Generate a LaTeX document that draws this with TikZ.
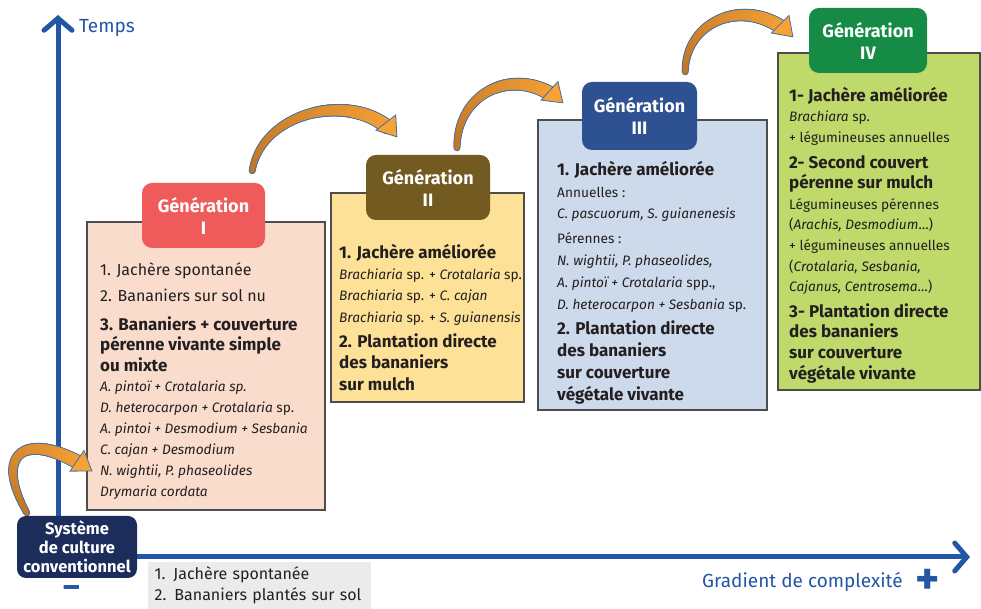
\documentclass[tikz,border=0pt]{standalone}
\usepackage{fontspec}
\setmainfont{Fira Sans}
\usetikzlibrary{arrows.meta,decorations.markings}

\definecolor{axisblue}{HTML}{2356A5}
\definecolor{boxline}{HTML}{4D4D4D}
\definecolor{ink}{HTML}{231F20}
\definecolor{peach}{HTML}{F9DCCB}
\definecolor{coral}{HTML}{EF5B5B}
\definecolor{straw}{HTML}{FCE196}
\definecolor{umber}{HTML}{735A20}
\definecolor{skyblue}{HTML}{CDDAEB}
\definecolor{steel}{HTML}{2E5291}
\definecolor{lime}{HTML}{C0D96B}
\definecolor{forest}{HTML}{168B45}
\definecolor{navy}{HTML}{1C2C5B}
\definecolor{greybox}{HTML}{EBEBEB}
\definecolor{arrowdark}{HTML}{BF7628}
\definecolor{arrowlight}{HTML}{F8A236}
\definecolor{arrowline}{HTML}{3E6FA8}

\newcommand\hdfont{\fontsize{17}{20}\selectfont\bfseries}
\newcommand\spfont{\fontsize{13.7}{20}\selectfont}

% one dot of the tapered shaft, #1=1 outline pass, #1=0 fill pass
\newcommand\taperdot[1]{%
  \pgfmathsetmacro\tdist{\pgfkeysvalueof{/pgf/decoration/mark info/distance from start}}%
  \pgfmathsetmacro\tlen{\pgfdecoratedpathlength}%
  \pgfmathsetmacro\tpos{\tdist/\tlen}%
  \pgfmathtruncatemacro\tshow{\tdist<\tlen-15 ? 1 : 0}%
  \pgfmathsetmacro\trad{2.6+4.4*\tpos+0.9*#1}%
  \pgfmathtruncatemacro\tmix{100*\tpos}%
  \ifnum\tshow=1
    \ifnum#1=1 \fill[arrowline] (0pt,0pt) circle (\trad pt);
    \else \fill[arrowlight!\tmix!arrowdark] (0pt,0pt) circle (\trad pt); \fi
  \fi}

\tikzset{
  bend line/.style={decorate, decoration={markings,
      mark=between positions 0 and 1 step 1pt with {\taperdot{1}}}},
  bend fill/.style={decorate, decoration={markings,
      mark=between positions 0 and 1 step 1pt with {\taperdot{0}}}},
  bend head/.style={decorate, decoration={markings,
      mark=at position 0.999 with {\filldraw[draw=arrowline, fill=arrowlight, line width=0.8pt]
        (0pt,0pt) -- (-18pt,12.5pt) -- (-18pt,-12.5pt) -- cycle;}}},
}
\newcommand\bendarrow[1]{\path[bend line] #1; \path[bend fill] #1; \path[bend head] #1;}

\begin{document}
\begin{tikzpicture}[x=1pt,y=1pt,
  genbox/.style={draw=boxline, line width=1.1pt, inner sep=0pt},
  genhead/.style={rounded corners=10pt, inner sep=0pt, text=white, align=center,
    font=\fontsize{18}{22}\selectfont\bfseries},
  boxtext/.style={anchor=north west, inner sep=0pt, align=left, text=ink},
  axis/.style={line width=5pt, draw=axisblue, line cap=round,
    -{Straight Barb[length=12pt,width=28pt,line cap=round]}},
  axislabel/.style={text=axisblue, inner sep=0pt},
]
\useasboundingbox (0,0) rectangle (981,609);

% axes
\coordinate (origin) at (58,52);
\coordinate (ytop) at (58,594);
\coordinate (xend) at (970,52);
\draw[axis] (origin) -- (ytop);
\draw[axis] (origin) -- (xend);

% generation boxes
\node[genbox, fill=peach, minimum width=238, minimum height=288] (box1) at (206,243) {};
\node[genbox, fill=straw, minimum width=193, minimum height=209] (box2) at (427.5,311.5) {};
\node[genbox, fill=skyblue, minimum width=229, minimum height=290] (box3) at (652.5,344) {};
\node[genbox, fill=lime, minimum width=202, minimum height=337] (box4) at (879,387.5) {};

% headers
\node[genhead, fill=coral, minimum width=123, minimum height=65] (head1) at (203.5,393.5) {Génération\\I};
\node[genhead, fill=umber, minimum width=124, minimum height=65] (head2) at (428,421.5) {Génération\\II};
\node[genhead, fill=steel, minimum width=115, minimum height=68] (head3) at (639.5,493) {Génération\\III};
\node[genhead, fill=forest, minimum width=118, minimum height=65] (head4) at (868,568.5) {Génération\\IV};

% box texts
\node[boxtext, font=\fontsize{16}{21}\selectfont] (txt1) at (100,347) {1. Jachère spontanée\\[5pt]
  2. Bananiers sur sol nu\\[8pt]
  \hdfont 3. Bananiers + couverture\\[-1pt]
  \hdfont pérenne vivante simple\\
  \hdfont ou mixte\\[-1pt]
  \spfont\itshape A. pintoï + Crotalaria sp.\\
  \spfont\textit{D. heterocarpon + Crotalaria} sp.\\
  \spfont\itshape A. pintoi + Desmodium + Sesbania\\
  \spfont\itshape C. cajan + Desmodium\\
  \spfont\itshape N. wightii, P. phaseolides\\
  \spfont\itshape Drymaria cordata};
\node[boxtext, font=\fontsize{14}{21.3}\selectfont] (txt2) at (339,365) {\hdfont 1. Jachère améliorée\\
  \spfont\textit{Brachiaria} sp. + \textit{Crotalaria} sp.\\
  \spfont\textit{Brachiaria} sp. + \textit{C. cajan}\\
  \spfont\textit{Brachiaria} sp. + \textit{S. guianensis}\\[4pt]
  \hdfont 2. Plantation directe\\
  \hdfont des bananiers\\
  \hdfont sur mulch};
\node[boxtext, font=\fontsize{14}{21.8}\selectfont] (txt3) at (557,448) {\hdfont 1. Jachère améliorée\\
  \spfont Annuelles~:\\
  \spfont\itshape C. pascuorum, S. guianenesis\\[3pt]
  \spfont Pérennes~:\\
  \spfont\itshape N. wightii, P. phaseolides,\\
  \spfont\textit{A. pintoï + Crotalaria} spp.,\\
  \spfont\textit{D. heterocarpon + Sesbania} sp.\\[4pt]
  \hdfont 2. Plantation directe\\
  \hdfont des bananiers\\
  \hdfont sur couverture\\
  \hdfont végétale vivante};
\node[boxtext, font=\fontsize{14}{20.6}\selectfont] (txt4) at (789,522) {\hdfont 1- Jachère améliorée\\
  \spfont\textit{Brachiara} sp.\\
  \spfont + légumineuses annuelles\\[5pt]
  \hdfont 2- Second couvert\\
  \hdfont pérenne sur mulch\\
  \spfont Légumineuses pérennes\\
  \spfont (\textit{Arachis, Desmodium}…)\\
  \spfont + légumineuses annuelles\\
  \spfont (\textit{Crotalaria, Sesbania,}\\
  \spfont \textit{Cajanus, Centrosema}…)\\[5pt]
  \hdfont 3- Plantation directe\\
  \hdfont des bananiers\\
  \hdfont sur couverture\\
  \hdfont végétale vivante};

% starting point
\node[fill=navy, rounded corners=9pt, minimum width=120, minimum height=62, inner sep=0pt,
  text=white, align=center, font=\fontsize{16.5}{19}\selectfont\bfseries] (sys) at (77,62)
  {Système\\de culture\\conventionnel};
\node[fill=greybox, anchor=south west, minimum width=223, minimum height=47, inner sep=0pt,
  text width=210, align=left, text=ink, font=\fontsize{16}{21}\selectfont] (base) at (148,0)
  {1. Jachère spontanée\\2. Bananiers plantés sur sol};

% axis labels
\node[axislabel, anchor=west, font=\fontsize{19}{20}\selectfont] (temps) at (79,581) {Temps};
\node[axislabel, anchor=west, font=\fontsize{19}{20}\selectfont] (gradient) at (702,27) {Gradient de complexité};
\node[axislabel, font=\fontsize{46}{46}\selectfont\bfseries] (plus) at (928,27) {+};
\node[axislabel, font=\fontsize{32}{32}\selectfont\bfseries] (minus) at (72,17) {–};

% curved arrows
\coordinate (tip0) at (92,138);
\coordinate (tip1) at (397,472);
\coordinate (tip2) at (563,506);
\coordinate (tip3) at (793,572);
\bendarrow{([shift={(10,3)}]sys.north west) .. controls +(-36,64) and +(-62,42) .. (tip0)}
\bendarrow{([shift={(-13,12)}]head1.north east) .. controls +(10,62) and +(-37,48) .. (tip1)}
\bendarrow{([shift={(29,7)}]head2.north) .. controls +(0,59) and +(-43,39) .. (tip2)}
\bendarrow{([shift={(-12,10)}]head3.north east) .. controls +(0,53) and +(-43,43) .. (tip3)}
\end{tikzpicture}
\end{document}
